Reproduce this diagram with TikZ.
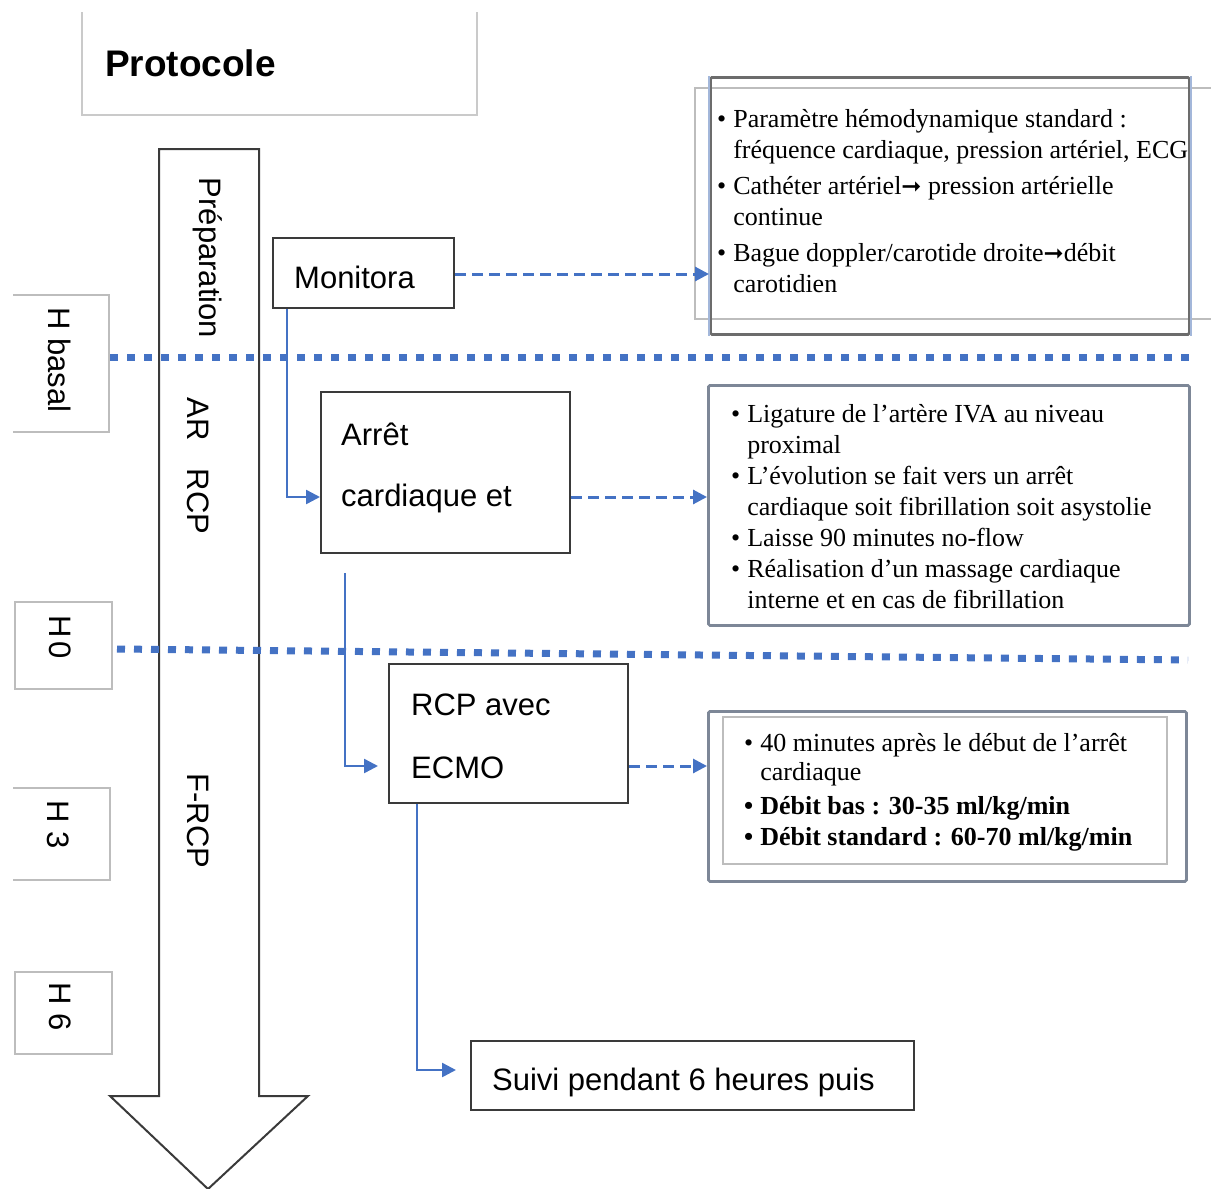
\documentclass[tikz,border=0pt]{standalone}
\usepackage{fontspec}
\setmainfont{Liberation Serif}
\setsansfont{Liberation Sans}
\newfontfamily\dejavu{DejaVu Sans}
\usetikzlibrary{arrows.meta}
\definecolor{ublue}{HTML}{4472C4}
\definecolor{dgray}{HTML}{3A3A3A}
\definecolor{lgray}{HTML}{BDBDBD}
\definecolor{bgray}{HTML}{7D8797}
\definecolor{lblue}{HTML}{A3B7DA}
\newcommand{\sansbig}{\sffamily\fontsize{31}{31}\selectfont}
\newcommand{\serifbody}{\rmfamily\fontsize{26}{31}\selectfont}
\newcommand{\harrow}{{\dejavu\fontsize{24}{24}\selectfont ➞}}
\begin{document}
\begin{tikzpicture}[x=1pt,y=-1pt,
  mainbox/.style={draw=dgray, line width=2.4pt, inner sep=0pt, anchor=north west},
  rbox/.style={draw=bgray, line width=2.8pt, rounded corners=1.5pt, inner sep=0pt, anchor=north west},
  labbox/.style={draw=lgray, line width=2pt, inner sep=0pt, anchor=north west},
  labline/.style={draw=lgray, line width=2pt},
  conn/.style={draw=ublue, line width=2.5pt, -{Triangle[length=14pt,width=14pt]}},
  dconn/.style={draw=ublue, line width=3pt, dash pattern=on 11pt off 6pt, -{Triangle[length=14pt,width=14pt]}},
  dotline/.style={draw=ublue, line width=7pt, dash pattern=on 8pt off 9pt},
  vtext/.style={font=\sansbig, rotate=-90, inner sep=0pt, anchor=base},
  btext/.style={font=\sansbig, inner sep=0pt, anchor=base west},
  ltext/.style={font=\serifbody, inner sep=0pt, anchor=base west, align=left}
]
\useasboundingbox (0,0) rectangle (1211,1189);

% Protocole header
\draw[draw=lgray!80, line width=2pt] (82,12) -- (82,115) -- (477,115) -- (477,12);
\node[font=\sffamily\bfseries\fontsize{37}{37}\selectfont, inner sep=0pt, anchor=base west] (prot) at (105,76) {Protocole};

% big timeline arrow
\draw[draw=dgray, line width=2pt, line join=miter] (159,149) -- (259,149) -- (259,1096) -- (308,1096) -- (208,1189) -- (110,1096) -- (159,1096) -- cycle;
\node[vtext] (prep) at (199,258) {Préparation};
\node[vtext] (arrcp) at (187,466) {AR\hspace{28pt}RCP};
\node[vtext] (frcp) at (187,821) {F-RCP};

% time label boxes
\draw[labline] (13,295) -- (109,295) -- (109,432) -- (13,432);
\node[vtext] (hbt) at (48,360) {H basal};
\node[labbox, minimum width=97pt, minimum height=87pt] (h0) at (14,601) {};
\node[vtext] at (49,637) {H\hspace{4pt}0};
\draw[labline] (13,788) -- (110,788) -- (110,880) -- (13,880);
\node[vtext] (h3t) at (47,825) {H 3};
\node[labbox, minimum width=97pt, minimum height=82pt] (h6) at (14,971) {};
\node[vtext] at (49,1007) {H 6};

% dotted separators
\coordinate (d1a) at (110,357);
\coordinate (d1b) at (1190,357);
\coordinate (d2a) at (117,649);
\coordinate (d2b) at (1188,660);
\draw[dotline] (d1a) -- (d1b);
\draw[dotline] (d2a) -- (d2b);

% main boxes
\node[mainbox, minimum width=181pt, minimum height=70pt] (mon) at (272,237) {};
\node[btext] at (294,288) {Monitora};
\node[mainbox, minimum width=249pt, minimum height=161pt] (arr) at (320,391) {};
\node[btext] at (341,445) {Arrêt};
\node[btext] at (341,506) {cardiaque et};
\node[mainbox, minimum width=239pt, minimum height=139pt] (rcp) at (388,663) {};
\node[btext] at (411,715) {RCP avec};
\node[btext] at (411,778) {ECMO};
\node[mainbox, minimum width=443pt, minimum height=69pt] (suivi) at (470,1040) {};
\node[btext] at (492,1090) {Suivi pendant 6 heures puis};

% right boxes
\draw[draw=lgray, line width=1.3pt] (1211,88) -- (695,88) -- (695,319) -- (1211,319);
\node[rbox, draw=gray!85!black, minimum width=479pt, minimum height=257pt] (b1) at (709,76) {};
\draw[draw=lblue, line width=2pt] (b1.north west) -- (b1.south west);
\draw[draw=lblue, line width=2pt] (b1.north east) -- (b1.south east);
\node[ltext] (t1) at (717,127) {\begin{tabular}[t]{@{}l@{\hspace{7pt}}l@{}}
• & Paramètre hémodynamique standard :\\
  & fréquence cardiaque, pression artériel, ECG\\[5pt]
• & Cathéter artériel\harrow{} pression artérielle\\
  & continue\\[5pt]
• & Bague doppler/carotide droite\harrow débit\\
  & carotidien
\end{tabular}};

\node[rbox, minimum width=481pt, minimum height=240pt] (b2) at (707,384) {};
\node[ltext] (t2) at (731,422) {\begin{tabular}[t]{@{}l@{\hspace{7pt}}l@{}}
• & Ligature de l’artère IVA au niveau\\
  & proximal\\
• & L’évolution se fait vers un arrêt\\
  & cardiaque soit fibrillation soit asystolie\\
• & Laisse 90 minutes no-flow\\
• & Réalisation d’un massage cardiaque\\
  & interne et en cas de fibrillation
\end{tabular}};

\node[rbox, minimum width=478pt, minimum height=170pt] (b3) at (707,710) {};
\node[draw=lgray, line width=1.5pt, inner sep=0pt, anchor=north west, minimum width=444pt, minimum height=147pt] (b3i) at (722,716) {};
\node[ltext] (t3) at (744,751) {\begin{tabular}[t]{@{}l@{\hspace{7pt}}l@{}}
• & 40 minutes après le début de l’arrêt\\[-2pt]
  & cardiaque\\[3pt]
\textbf{•} & \textbf{Débit bas : 30-35 ml/kg/min}\\
\textbf{•} & \textbf{Débit standard : 60-70 ml/kg/min}
\end{tabular}};

% connectors
\coordinate (m1) at (287,497);
\coordinate (m2) at (0,274);
\coordinate (a0) at (345,573);
\coordinate (a1) at (345,766);
\coordinate (r1) at (417,1070);
\draw[conn] (mon.south -| m1) -- (m1) -- (arr.west |- m1);
\draw[conn, shorten >=10pt] (a0) -- (a1) -- (rcp.west |- a1);
\draw[conn, shorten >=14pt] (rcp.south -| r1) -- (r1) -- (suivi.west |- r1);
\draw[dconn] (mon.east |- m2) -- (b1.west |- m2);
\draw[dconn] (arr.east |- m1) -- (b2.west |- m1);
\draw[dconn] (rcp.east |- a1) -- (b3.west |- a1);
\end{tikzpicture}
\end{document}
